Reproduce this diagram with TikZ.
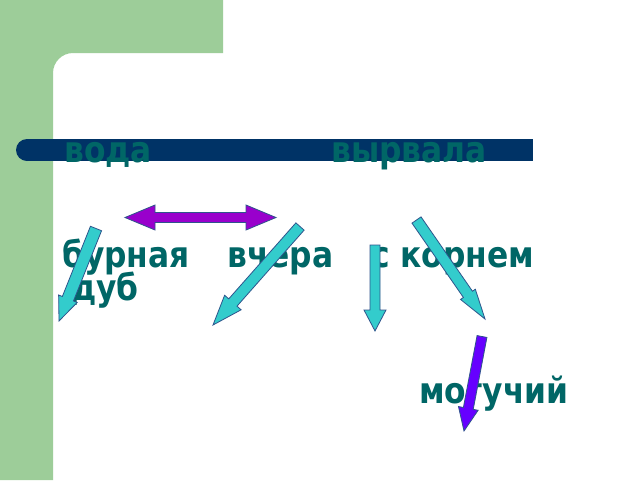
\documentclass[tikz,border=0pt]{standalone}
\usepackage{fontspec}
\newfontfamily\slidefont[FakeStretch=0.87]{DejaVu Sans}
\usetikzlibrary{calc}

\definecolor{slidegreen}{RGB}{157,205,153}
\definecolor{barblue}{RGB}{0,51,102}
\definecolor{wordteal}{RGB}{0,102,102}
\definecolor{arrowcyan}{RGB}{51,204,204}
\definecolor{arrowedge}{RGB}{46,84,140}
\definecolor{arrowviolet}{RGB}{102,0,255}
\definecolor{arrowmagenta}{RGB}{153,0,204}

%% block arrow: style, tail, tip, shaft half width, head half width, head length
\newcommand\blockarrow[6]{%
  \coordinate (#2-h) at ($(#3)!#6!(#2)$);
  \filldraw[#1] ($(#2)!#4!90:(#3)$) -- ($(#2-h)!#4!90:(#3)$)
    -- ($(#2-h)!#5!90:(#3)$) -- (#3) -- ($(#2-h)!#5!-90:(#3)$)
    -- ($(#2-h)!#4!-90:(#3)$) -- ($(#2)!#4!-90:(#3)$) -- cycle;}

\begin{document}
\begin{tikzpicture}[x=1pt,y=-1pt,
    word/.style={font=\slidefont\bfseries\fontsize{36}{40}\selectfont,
      text=wordteal,inner sep=0pt,anchor=base west},
    cyanarrow/.style={fill=arrowcyan,draw=arrowedge,line width=.8pt},
    violetarrow/.style={fill=arrowviolet,draw=arrowedge,line width=.8pt},
    magentaarrow/.style={fill=arrowmagenta,draw=arrowedge,line width=.8pt}]
    \useasboundingbox (0,0) rectangle (640,480);
    \fill[white] (0,0) rectangle (640,480);

    %% green frame
    \fill[slidegreen] (0,0) -- (223,0) -- (223,53) [rounded corners=20]
      -- (53,53) [sharp corners] -- (53,480) -- (0,480) -- cycle;

    %% title bar
    \fill[barblue] (27,139) rectangle (533,161);
    \fill[barblue] (27,150) circle[radius=11];

    %% words
    \node[word] (voda) at (64,162) {вода};
    \node[word] (vyrvala) at (331,162) {вырвала};
    \node[word] (burnaya) at (62,267) {бурная};
    \node[word] (vchera) at (227,267) {вчера};
    \node[word] (skornem) at (371,267) {с корнем};
    \node[word] (dub) at (71,300) {дуб};
    \node[word] (moguchy) at (419,403) {могучий};

    %% arrow ends
    \coordinate (a1) at (96,228.5);  \coordinate (b1) at (59,321);
    \coordinate (a2) at (300,226.5); \coordinate (b2) at (213,325);
    \coordinate (a3) at (375,245);   \coordinate (b3) at (375,331);
    \coordinate (a4) at (416.5,220); \coordinate (b4) at (485,319);
    \coordinate (a5) at (482,336.5); \coordinate (b5) at (464,431);

    %% arrows
    \blockarrow{cyanarrow}{a1}{b1}{6pt}{10pt}{24pt}
    \blockarrow{cyanarrow}{a2}{b2}{5.5pt}{11pt}{30pt}
    \blockarrow{cyanarrow}{a3}{b3}{5pt}{11pt}{21pt}
    \blockarrow{cyanarrow}{a4}{b4}{5.5pt}{9pt}{30pt}
    \blockarrow{violetarrow}{a5}{b5}{5pt}{10pt}{23pt}

    %% double arrow
    \coordinate (dl) at (125,217.5);
    \coordinate (dr) at (276,217.5);
    \filldraw[magentaarrow] (dl) -- ($(dl)+(30,-12.5)$) -- ($(dl)+(30,-5)$)
      -- ($(dr)+(-30,-5)$) -- ($(dr)+(-30,-12.5)$) -- (dr)
      -- ($(dr)+(-30,12.5)$) -- ($(dr)+(-30,5)$) -- ($(dl)+(30,5)$)
      -- ($(dl)+(30,12.5)$) -- cycle;
\end{tikzpicture}
\end{document}
